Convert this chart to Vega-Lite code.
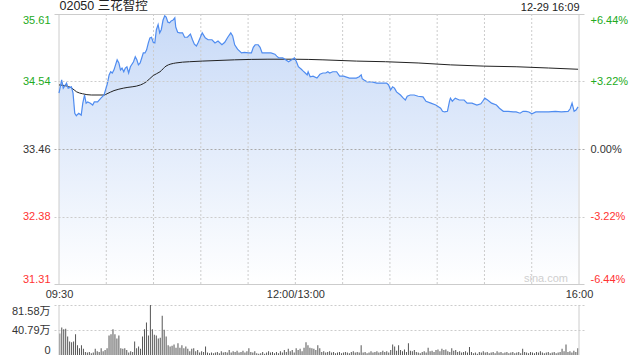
{
"$schema": "https://vega.github.io/schema/vega-lite/v6.json",
"width": 530,
"height": 341,
"autosize": {"type": "none"},
"padding": {"left": 54, "top": 14, "right": 56, "bottom": 5},
"config": {"view": {"stroke": null}, "font": "Liberation Sans, Noto Sans CJK SC, sans-serif", "axis": {"domain": false, "ticks": false, "labelFont": "Liberation Sans, Noto Sans CJK SC, sans-serif", "labelFontSize": 11}},
"datasets": {
"price": [{"t":0,"p":34.35},{"t":1.7,"p":34.56},{"t":2.7,"p":34.43},{"t":4.8,"p":34.51},{"t":5.8,"p":34.43},{"t":7.9,"p":34.45},{"t":8.9,"p":34.35},{"t":10.0,"p":34.03},{"t":11.0,"p":33.99},{"t":12.5,"p":34.03},{"t":14.1,"p":34.0},{"t":15.1,"p":34.19},{"t":16.2,"p":34.32},{"t":17.2,"p":34.19},{"t":18.2,"p":34.21},{"t":19.9,"p":34.19},{"t":21.4,"p":34.16},{"t":22.4,"p":34.21},{"t":24.5,"p":34.21},{"t":26.6,"p":34.27},{"t":28.6,"p":34.32},{"t":30.7,"p":34.5},{"t":31.8,"p":34.64},{"t":32.8,"p":34.69},{"t":33.8,"p":34.67},{"t":34.9,"p":34.72},{"t":36.9,"p":34.88},{"t":38.0,"p":34.83},{"t":39.0,"p":34.72},{"t":40.0,"p":34.75},{"t":41.1,"p":34.69},{"t":42.1,"p":34.75},{"t":43.1,"p":34.77},{"t":44.2,"p":34.67},{"t":45.3,"p":34.77},{"t":47.3,"p":34.85},{"t":48.4,"p":34.93},{"t":49.4,"p":34.88},{"t":50.4,"p":34.8},{"t":51.5,"p":34.83},{"t":52.5,"p":34.91},{"t":53.5,"p":34.99},{"t":54.6,"p":34.99},{"t":55.6,"p":35.04},{"t":56.7,"p":35.15},{"t":57.7,"p":35.23},{"t":58.7,"p":35.24},{"t":59.8,"p":35.16},{"t":60.8,"p":35.15},{"t":61.8,"p":35.36},{"t":62.9,"p":35.44},{"t":63.9,"p":35.31},{"t":64.9,"p":35.36},{"t":66.0,"p":35.51},{"t":67.1,"p":35.58},{"t":68.0,"p":35.56},{"t":69.1,"p":35.48},{"t":70.2,"p":35.47},{"t":71.2,"p":35.5},{"t":72.2,"p":35.51},{"t":73.5,"p":35.55},{"t":74.1,"p":35.4},{"t":75.3,"p":35.32},{"t":76.6,"p":35.31},{"t":78.4,"p":35.31},{"t":79.7,"p":35.24},{"t":81.5,"p":35.24},{"t":83.4,"p":35.29},{"t":84.7,"p":35.2},{"t":85.9,"p":35.13},{"t":87.2,"p":35.1},{"t":88.4,"p":35.16},{"t":90.9,"p":35.31},{"t":92.8,"p":35.23},{"t":94.6,"p":35.2},{"t":97.1,"p":35.2},{"t":99.0,"p":35.15},{"t":100.9,"p":35.18},{"t":103.4,"p":35.12},{"t":105.2,"p":35.16},{"t":107.1,"p":35.24},{"t":109.0,"p":35.31},{"t":110.2,"p":35.26},{"t":111.5,"p":35.12},{"t":113.3,"p":35.05},{"t":115.8,"p":34.99},{"t":117.7,"p":35.0},{"t":120.2,"p":34.99},{"t":122.1,"p":34.99},{"t":123.3,"p":35.08},{"t":124.5,"p":35.12},{"t":126.4,"p":35.12},{"t":127.6,"p":35.08},{"t":128.9,"p":34.99},{"t":131.4,"p":34.99},{"t":134.5,"p":34.99},{"t":137.0,"p":34.97},{"t":138.2,"p":34.94},{"t":139.5,"p":34.91},{"t":142.0,"p":34.91},{"t":143.8,"p":34.88},{"t":145.7,"p":34.85},{"t":148.2,"p":34.89},{"t":149.4,"p":34.91},{"t":150.7,"p":34.85},{"t":151.9,"p":34.77},{"t":153.8,"p":34.73},{"t":155.0,"p":34.7},{"t":156.3,"p":34.67},{"t":157.5,"p":34.64},{"t":158.1,"p":34.69},{"t":159.4,"p":34.61},{"t":161.2,"p":34.62},{"t":163.7,"p":34.59},{"t":165.6,"p":34.65},{"t":167.5,"p":34.67},{"t":169.3,"p":34.67},{"t":170.6,"p":34.69},{"t":171.8,"p":34.67},{"t":173.7,"p":34.69},{"t":176.2,"p":34.69},{"t":178.1,"p":34.62},{"t":180.6,"p":34.62},{"t":184.3,"p":34.59},{"t":186.2,"p":34.59},{"t":188.7,"p":34.59},{"t":190.5,"p":34.61},{"t":191.8,"p":34.64},{"t":192.4,"p":34.58},{"t":193.6,"p":34.56},{"t":195.5,"p":34.53},{"t":198.6,"p":34.53},{"t":201.7,"p":34.51},{"t":204.8,"p":34.51},{"t":207.9,"p":34.51},{"t":209.2,"p":34.48},{"t":210.4,"p":34.4},{"t":211.7,"p":34.45},{"t":212.9,"p":34.43},{"t":214.2,"p":34.37},{"t":216.7,"p":34.32},{"t":218.5,"p":34.27},{"t":219.8,"p":34.24},{"t":221.0,"p":34.3},{"t":222.9,"p":34.32},{"t":225.4,"p":34.32},{"t":227.9,"p":34.3},{"t":231.0,"p":34.29},{"t":232.9,"p":34.22},{"t":236.0,"p":34.19},{"t":239.1,"p":34.16},{"t":242.2,"p":34.11},{"t":243.4,"p":34.06},{"t":244.7,"p":34.05},{"t":246.5,"p":34.06},{"t":247.8,"p":34.22},{"t":248.4,"p":34.27},{"t":249.6,"p":34.22},{"t":251.5,"p":34.27},{"t":254.0,"p":34.24},{"t":257.1,"p":34.24},{"t":259.0,"p":34.19},{"t":262.1,"p":34.19},{"t":265.2,"p":34.16},{"t":267.7,"p":34.18},{"t":268.9,"p":34.22},{"t":270.2,"p":34.27},{"t":272.0,"p":34.24},{"t":274.5,"p":34.19},{"t":277.6,"p":34.16},{"t":279.5,"p":34.11},{"t":282.0,"p":34.06},{"t":285.1,"p":34.06},{"t":288.3,"p":34.05},{"t":290.1,"p":34.05},{"t":292.6,"p":34.03},{"t":294.5,"p":34.06},{"t":296.4,"p":34.06},{"t":298.2,"p":34.05},{"t":300.1,"p":34.02},{"t":302.6,"p":34.05},{"t":306.9,"p":34.05},{"t":310.7,"p":34.05},{"t":315.0,"p":34.06},{"t":318.8,"p":34.05},{"t":323.1,"p":34.06},{"t":324.4,"p":34.1},{"t":325.6,"p":34.19},{"t":326.9,"p":34.06},{"t":328.1,"p":34.08},{"t":329.4,"p":34.13}],
"avg": [{"t":0,"a":34.48},{"t":3.7,"a":34.47},{"t":8.1,"a":34.43},{"t":11.2,"a":34.37},{"t":14.9,"a":34.34},{"t":20.5,"a":34.32},{"t":28.6,"a":34.32},{"t":30.5,"a":34.34},{"t":34.9,"a":34.39},{"t":41.1,"a":34.43},{"t":51.7,"a":34.48},{"t":55.4,"a":34.53},{"t":59.8,"a":34.63},{"t":64.1,"a":34.69},{"t":67.9,"a":34.78},{"t":74.1,"a":34.83},{"t":82.8,"a":34.85},{"t":90.9,"a":34.86},{"t":111.4,"a":34.88},{"t":132.6,"a":34.89},{"t":148.8,"a":34.89},{"t":167.5,"a":34.88},{"t":188.7,"a":34.86},{"t":207.3,"a":34.85},{"t":227.9,"a":34.83},{"t":248.4,"a":34.8},{"t":269.6,"a":34.78},{"t":290.1,"a":34.77},{"t":310.7,"a":34.75},{"t":329.4,"a":34.73}],
"vol": [{"t":0.5,"v":35},{"t":1.75,"v":45},{"t":3,"v":42},{"t":4.25,"v":43},{"t":5.5,"v":30},{"t":6.75,"v":22},{"t":8,"v":21},{"t":9.25,"v":22},{"t":10.5,"v":34},{"t":11.75,"v":16},{"t":13,"v":11},{"t":14.25,"v":16},{"t":15.5,"v":10},{"t":16.75,"v":5},{"t":18,"v":4},{"t":19.25,"v":5},{"t":20.5,"v":3},{"t":21.75,"v":4},{"t":23,"v":10},{"t":24.25,"v":6},{"t":25.5,"v":5},{"t":26.75,"v":11},{"t":28,"v":6},{"t":29.25,"v":8},{"t":30.5,"v":11},{"t":31.75,"v":32},{"t":33,"v":34},{"t":34.25,"v":42},{"t":35.5,"v":34},{"t":36.75,"v":27},{"t":38,"v":32},{"t":39.25,"v":11},{"t":40.5,"v":10},{"t":41.75,"v":11},{"t":43,"v":8},{"t":44.25,"v":4},{"t":45.5,"v":6},{"t":46.75,"v":5},{"t":48,"v":22},{"t":49.25,"v":11},{"t":50.5,"v":14},{"t":51.75,"v":10},{"t":53,"v":30},{"t":54.25,"v":42},{"t":55.5,"v":53},{"t":56.75,"v":32},{"t":58,"v":81.58},{"t":59.25,"v":42},{"t":60.5,"v":33},{"t":61.75,"v":32},{"t":63,"v":27},{"t":64.25,"v":28},{"t":65.5,"v":64},{"t":66.75,"v":41},{"t":68,"v":30},{"t":69.25,"v":16},{"t":70.5,"v":14},{"t":71.75,"v":15},{"t":73,"v":17},{"t":74.25,"v":12},{"t":75.5,"v":19},{"t":76.75,"v":12},{"t":78,"v":16},{"t":79.25,"v":11},{"t":80.5,"v":14},{"t":81.75,"v":10},{"t":83,"v":6},{"t":84.25,"v":10},{"t":85.5,"v":11},{"t":86.75,"v":6},{"t":88,"v":8},{"t":89.25,"v":4},{"t":90.5,"v":6},{"t":91.75,"v":5},{"t":93,"v":14},{"t":94.25,"v":4},{"t":95.5,"v":3},{"t":96.75,"v":4},{"t":98,"v":3},{"t":99.25,"v":4},{"t":100.5,"v":5},{"t":101.75,"v":3},{"t":103,"v":6},{"t":104.25,"v":4},{"t":105.5,"v":5},{"t":106.75,"v":4},{"t":108,"v":8},{"t":109.25,"v":4},{"t":110.5,"v":6},{"t":111.75,"v":5},{"t":113,"v":7},{"t":114.25,"v":4},{"t":115.5,"v":5},{"t":116.75,"v":7},{"t":118,"v":4},{"t":119.25,"v":6},{"t":120.5,"v":11},{"t":121.75,"v":5},{"t":123,"v":4},{"t":124.25,"v":6},{"t":125.5,"v":3},{"t":126.75,"v":2},{"t":128,"v":3},{"t":129.25,"v":5},{"t":130.5,"v":2},{"t":131.75,"v":4},{"t":133,"v":6},{"t":134.25,"v":4},{"t":135.5,"v":5},{"t":136.75,"v":3},{"t":138,"v":5},{"t":139.25,"v":3},{"t":140.5,"v":6},{"t":141.75,"v":4},{"t":143,"v":8},{"t":144.25,"v":5},{"t":145.5,"v":10},{"t":146.75,"v":6},{"t":148,"v":8},{"t":149.25,"v":4},{"t":150.5,"v":11},{"t":151.75,"v":8},{"t":153,"v":10},{"t":154.25,"v":6},{"t":155.5,"v":12},{"t":156.75,"v":21},{"t":158,"v":16},{"t":159.25,"v":12},{"t":160.5,"v":11},{"t":161.75,"v":10},{"t":163,"v":8},{"t":164.25,"v":16},{"t":165.5,"v":11},{"t":166.75,"v":5},{"t":168,"v":6},{"t":169.25,"v":4},{"t":170.5,"v":5},{"t":171.75,"v":6},{"t":173,"v":4},{"t":174.25,"v":5},{"t":175.5,"v":3},{"t":176.75,"v":4},{"t":178,"v":5},{"t":179.25,"v":3},{"t":180.5,"v":4},{"t":181.75,"v":5},{"t":183,"v":4},{"t":184.25,"v":3},{"t":185.5,"v":5},{"t":186.75,"v":6},{"t":188,"v":4},{"t":189.25,"v":5},{"t":190.5,"v":4},{"t":191.75,"v":16},{"t":193,"v":4},{"t":194.25,"v":5},{"t":195.5,"v":3},{"t":196.75,"v":4},{"t":198,"v":6},{"t":199.25,"v":4},{"t":200.5,"v":5},{"t":201.75,"v":6},{"t":203,"v":4},{"t":204.25,"v":5},{"t":205.5,"v":7},{"t":206.75,"v":5},{"t":208,"v":6},{"t":209.25,"v":4},{"t":210.5,"v":8},{"t":211.75,"v":17},{"t":213,"v":14},{"t":214.25,"v":7},{"t":215.5,"v":16},{"t":216.75,"v":8},{"t":218,"v":6},{"t":219.25,"v":9},{"t":220.5,"v":5},{"t":221.75,"v":19},{"t":223,"v":7},{"t":224.25,"v":6},{"t":225.5,"v":8},{"t":226.75,"v":5},{"t":228,"v":4},{"t":229.25,"v":3},{"t":230.5,"v":5},{"t":231.75,"v":6},{"t":233,"v":4},{"t":234.25,"v":12},{"t":235.5,"v":6},{"t":236.75,"v":7},{"t":238,"v":5},{"t":239.25,"v":8},{"t":240.5,"v":9},{"t":241.75,"v":6},{"t":243,"v":10},{"t":244.25,"v":8},{"t":245.5,"v":9},{"t":246.75,"v":6},{"t":248,"v":5},{"t":249.25,"v":11},{"t":250.5,"v":7},{"t":251.75,"v":8},{"t":253,"v":5},{"t":254.25,"v":6},{"t":255.5,"v":4},{"t":256.75,"v":5},{"t":258,"v":6},{"t":259.25,"v":4},{"t":260.5,"v":13},{"t":261.75,"v":5},{"t":263,"v":3},{"t":264.25,"v":4},{"t":265.5,"v":2},{"t":266.75,"v":5},{"t":268,"v":4},{"t":269.25,"v":6},{"t":270.5,"v":4},{"t":271.75,"v":5},{"t":273,"v":3},{"t":274.25,"v":4},{"t":275.5,"v":5},{"t":276.75,"v":3},{"t":278,"v":6},{"t":279.25,"v":4},{"t":280.5,"v":5},{"t":281.75,"v":3},{"t":283,"v":4},{"t":284.25,"v":5},{"t":285.5,"v":3},{"t":286.75,"v":4},{"t":288,"v":5},{"t":289.25,"v":3},{"t":290.5,"v":4},{"t":291.75,"v":5},{"t":293,"v":3},{"t":294.25,"v":10},{"t":295.5,"v":5},{"t":296.75,"v":4},{"t":298,"v":3},{"t":299.25,"v":5},{"t":300.5,"v":4},{"t":301.75,"v":3},{"t":303,"v":5},{"t":304.25,"v":4},{"t":305.5,"v":6},{"t":306.75,"v":4},{"t":308,"v":3},{"t":309.25,"v":4},{"t":310.5,"v":5},{"t":311.75,"v":3},{"t":313,"v":4},{"t":314.25,"v":5},{"t":315.5,"v":3},{"t":316.75,"v":4},{"t":318,"v":5},{"t":319.25,"v":10},{"t":320.5,"v":6},{"t":321.75,"v":17},{"t":323,"v":5},{"t":324.25,"v":6},{"t":325.5,"v":4},{"t":326.75,"v":7},{"t":328,"v":5},{"t":329.25,"v":11}],
"grid": [{"t":30},{"t":60},{"t":90},{"t":120},{"t":150},{"t":180},{"t":210},{"t":240},{"t":270},{"t":300}],
"frame": [{"t":0},{"t":330}]
},
"resolve": {"scale": {"y": "independent"}, "axis": {"y": "independent", "x": "independent"}},
"layer": [
{"data": {"name": "price"},
 "mark": {"type": "area", "line": false, "fill": {"gradient": "linear", "x1": 0, "y1": 0, "x2": 0, "y2": 1, "stops": [{"offset": 0, "color": "#c8daf7"}, {"offset": 1, "color": "#ffffff"}]}},
 "encoding": {
  "x": {"field": "t", "type": "quantitative", "scale": {"domain": [0, 330], "nice": false, "zero": false},
        "axis": {"orient": "bottom", "offset": -71, "values": [0, 150, 330], "labelExpr": "datum.value == 0 ? '09:30' : datum.value == 150 ? '12:00/13:00' : '16:00'", "labelFlush": true, "labelPadding": 4, "labelColor": "#333333", "grid": false, "title": null}},
  "y": {"field": "p", "type": "quantitative", "scale": {"domain": [31.31, 35.61], "range": [270, 0], "nice": false, "zero": false},
        "axis": {"orient": "left", "values": [31.31, 32.38, 33.46, 34.54, 35.61], "format": ".2f", "labelFlush": true, "labelPadding": 4, "zindex": 1, "title": null,
                 "labelColor": {"condition": [{"test": "datum.value > 33.5", "value": "#22aa22"}, {"test": "datum.value < 33.4", "value": "#ff3333"}], "value": "#333333"},
                 "grid": true,
                 "gridColor": {"condition": {"test": "datum.value == 33.46", "value": "#aaaaaa"}, "value": "#cccccc"},
                 "gridDash": {"condition": {"test": "datum.value < 31.5 || datum.value > 35.5", "value": []}, "value": [2, 2]}}},
  "y2": {"datum": 31.31}
 }},
{"data": {"name": "grid"},
 "mark": {"type": "rule", "stroke": "#cccccc", "strokeDash": [2, 2], "strokeWidth": 1},
 "encoding": {
  "x": {"field": "t", "type": "quantitative", "scale": {"domain": [0, 330], "nice": false, "zero": false}, "axis": null},
  "y": {"datum": 31.31, "type": "quantitative", "scale": {"domain": [31.31, 35.61], "range": [270, 0], "nice": false, "zero": false}, "axis": null},
  "y2": {"datum": 35.61}
 }},
{"data": {"name": "frame"},
 "mark": {"type": "rule", "stroke": "#cccccc", "strokeWidth": 1},
 "encoding": {
  "x": {"field": "t", "type": "quantitative", "scale": {"domain": [0, 330], "nice": false, "zero": false},
        "axis": {"orient": "top", "values": [0, 330], "labelExpr": "datum.value == 0 ? '02050 三花智控' : '12-29 16:09'", "labelFlush": true, "labelPadding": 2, "labelColor": "#222222",
                 "labelAlign": {"condition": {"test": "datum.value == 0", "value": "left"}, "value": "right"},
                 "labelFontSize": {"condition": {"test": "datum.value == 0", "value": 12.5}, "value": 11}, "grid": false, "title": null}},
  "y": {"datum": 31.31, "type": "quantitative", "scale": {"domain": [31.31, 35.61], "range": [270, 0], "nice": false, "zero": false}, "axis": null},
  "y2": {"datum": 35.61}
 }},
{"data": {"name": "avg"},
 "mark": {"type": "line", "stroke": "#222222", "strokeWidth": 1, "interpolate": "monotone"},
 "encoding": {
  "x": {"field": "t", "type": "quantitative", "scale": {"domain": [0, 330], "nice": false, "zero": false}, "axis": null},
  "y": {"field": "a", "type": "quantitative", "scale": {"domain": [31.31, 35.61], "range": [270, 0], "nice": false, "zero": false}, "axis": null}
 }},
{"data": {"name": "price"},
 "mark": {"type": "line", "stroke": "#4f8cf0", "strokeWidth": 1.2},
 "encoding": {
  "x": {"field": "t", "type": "quantitative", "scale": {"domain": [0, 330], "nice": false, "zero": false}, "axis": null},
  "y": {"field": "p", "type": "quantitative", "scale": {"domain": [31.31, 35.61], "range": [270, 0], "nice": false, "zero": false},
        "axis": {"orient": "right", "values": [31.31, 32.38, 33.46, 34.54, 35.61], "labelExpr": "datum.value > 35.5 ? '+6.44%' : datum.value > 34.5 ? '+3.22%' : datum.value > 33.4 ? '0.00%' : datum.value > 32.3 ? '-3.22%' : '-6.44%'", "labelFlush": true, "labelPadding": 6, "grid": false, "title": null,
                 "labelColor": {"condition": [{"test": "datum.value > 33.5", "value": "#22aa22"}, {"test": "datum.value < 33.4", "value": "#ff3333"}], "value": "#333333"}}}
 }},
{"data": {"name": "vol"},
 "mark": {"type": "bar", "orient": "vertical", "size": 1, "color": "#555555"},
 "encoding": {
  "x": {"field": "t", "type": "quantitative", "scale": {"domain": [0, 330], "nice": false, "zero": false}, "axis": null},
  "y": {"field": "v", "type": "quantitative", "scale": {"domain": [0, 81.58], "range": [341, 291], "nice": false},
        "axis": {"orient": "left", "values": [0, 40.79, 81.58], "labelExpr": "datum.value == 0 ? '0' : format(datum.value, '.2f') + '万'", "labelFlush": true, "labelPadding": 4, "labelColor": "#333333", "title": null,
                 "grid": true, "gridColor": "#cccccc", "gridDash": [2, 2],
                 "gridOpacity": {"condition": {"test": "datum.value == 0", "value": 0}, "value": 1}}}
 }},
{"data": {"name": "frame"},
 "mark": {"type": "rule", "stroke": "#cccccc", "strokeWidth": 1},
 "encoding": {
  "x": {"field": "t", "type": "quantitative", "scale": {"domain": [0, 330], "nice": false, "zero": false}, "axis": null},
  "y": {"datum": 0, "type": "quantitative", "scale": {"domain": [0, 81.58], "range": [341, 291], "nice": false}, "axis": null},
  "y2": {"datum": 81.58}
 }},
{"data": {"values": [{}]},
 "mark": {"type": "text", "text": "sina.com", "color": "#cfcfcf", "fontSize": 11, "align": "right", "baseline": "middle"},
 "encoding": {
  "x": {"datum": 323, "type": "quantitative", "scale": {"domain": [0, 330], "nice": false, "zero": false}, "axis": null},
  "y": {"datum": 31.39, "type": "quantitative", "scale": {"domain": [31.31, 35.61], "range": [270, 0], "nice": false, "zero": false}, "axis": null}
 }}
]
}
